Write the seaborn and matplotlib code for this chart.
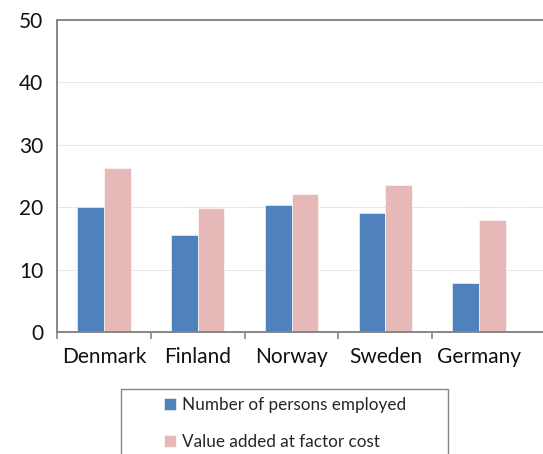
import matplotlib
matplotlib.use("Agg")
import matplotlib.pyplot as plt
import seaborn as sns
import pandas as pd
from matplotlib.patches import Rectangle

countries = ["Denmark", "Finland", "Norway", "Sweden", "Germany"]
series_names = ["Number of persons employed", "Value added at factor cost"]
employed = [20.0, 15.6, 20.3, 19.1, 7.8]
value_added = [26.3, 19.8, 22.1, 23.6, 18.0]
y_ticks = [0, 10, 20, 30, 40, 50]

df = pd.DataFrame({
    "country": countries * 2,
    "series": [series_names[0]] * 5 + [series_names[1]] * 5,
    "value": employed + value_added,
})

sns.set_style("white")
plt.rcParams["font.family"] = ["Lato", "DejaVu Sans"]

fig = plt.figure(figsize=(5.43, 4.54), dpi=100)
ax = fig.add_axes([0.105, 0.2687, 0.895, 0.688])

palette = {series_names[0]: "#4F81BD", series_names[1]: "#E6B9B8"}
sns.barplot(data=df, x="country", y="value", hue="series", order=countries,
            hue_order=series_names, palette=palette, width=0.57, gap=0,
            saturation=1, edgecolor="white", linewidth=0.4, ax=ax, legend=True)

ax.set_ylim(0, 50)
ax.set_xlim(-0.5, 4.68)
ax.set_yticks(y_ticks)
ax.set_xlabel("")
ax.set_ylabel("")
ax.yaxis.grid(True, color="#d0d0d0", linestyle=(0, (1, 1)), linewidth=0.7)
ax.set_axisbelow(True)

# ticks at category boundaries
ax.set_xticks([i + 0.5 for i in range(-1, 4)], minor=False)
ax.set_xticklabels([])
ax.set_xticks(range(5), minor=True)
ax.set_xticklabels(countries, minor=True, fontsize=15, color="#111111")
ax.tick_params(axis="x", which="minor", length=0, pad=11)
ax.tick_params(axis="x", which="major", length=5, width=1.2, color="#868686", direction="out")
ax.tick_params(axis="y", length=5, width=1.2, color="#868686", direction="out",
               labelsize=15, labelcolor="#111111", pad=5)
ax.tick_params(axis="x", which="both", bottom=True)

for s in ["left", "bottom", "top"]:
    ax.spines[s].set_color("#868686")
    ax.spines[s].set_linewidth(1.4)
ax.spines["right"].set_visible(False)

handles, labels = ax.get_legend_handles_labels()
ax.get_legend().remove()

# legend box (cropped at the bottom like the reference)
fig.patches.append(Rectangle((121 / 543, -0.05), (448 - 121) / 543, 0.05 + (454 - 389) / 454,
                             transform=fig.transFigure, fill=False, edgecolor="#868686",
                             linewidth=1.0))
fig.legend(handles, labels, loc="upper left", bbox_to_anchor=(164 / 543, 1 - 397 / 454),
           frameon=False, fontsize=12.3, handlelength=0.7, handleheight=0.7,
           handletextpad=0.35, labelspacing=1.25, borderpad=0, borderaxespad=0)

fig.savefig("out.png", dpi=100)
